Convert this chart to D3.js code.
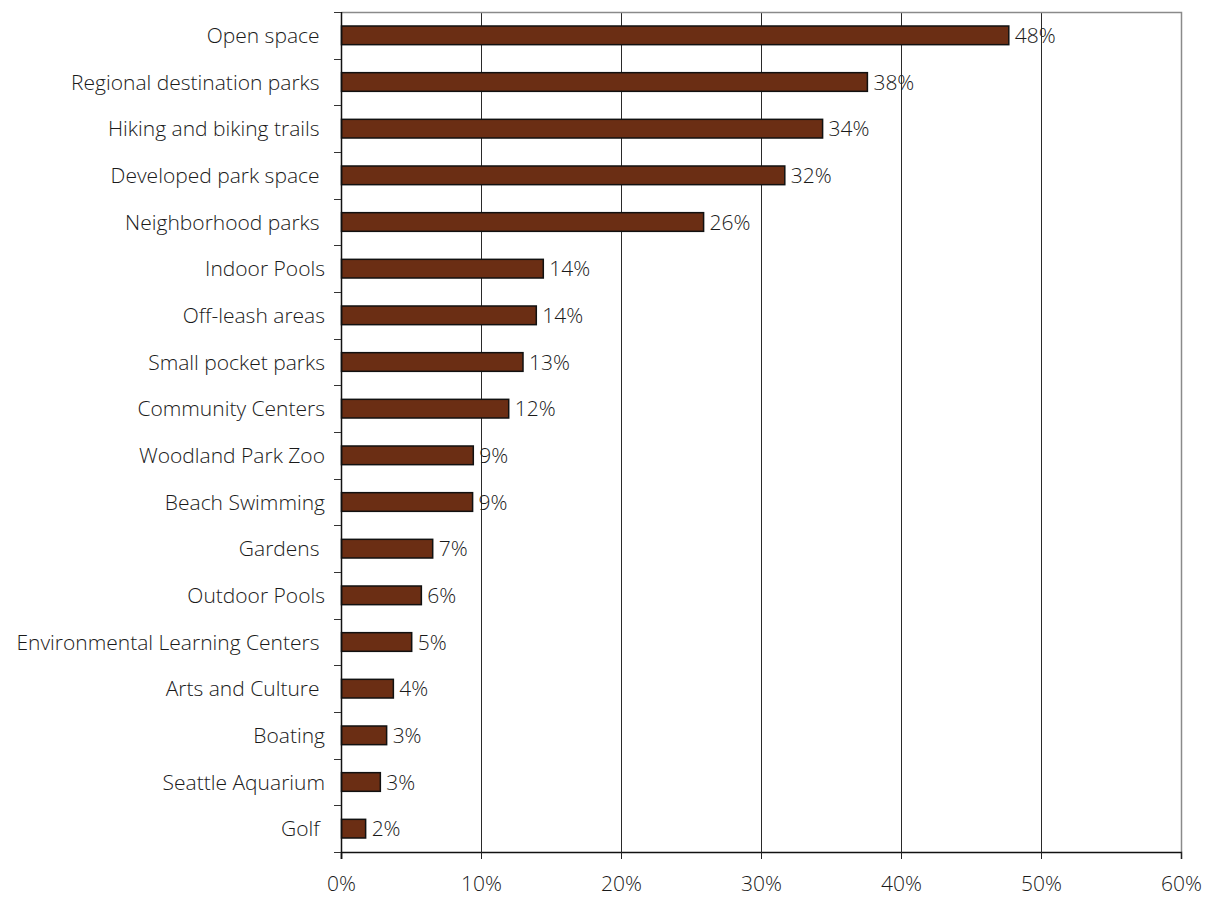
<!DOCTYPE html>
<html>
<head>
<meta charset="utf-8">
<script src="https://cdn.jsdelivr.net/npm/d3@7"></script>
<style>
  html, body { margin: 0; padding: 0; background: #fff; }
  svg { display: block; }
  text { font-family: "Open Sans", Lato, sans-serif; font-weight: 300; fill: #1a1a1a; }
</style>
</head>
<body>
<svg id="chart" width="1207" height="899"></svg>
<script>
// Share of respondents naming each facility type (percent)
const categories = [
  "Open space ", "Regional destination parks ", "Hiking and biking trails ",
  "Developed park space ", "Neighborhood parks ", "Indoor Pools",
  "Off-leash areas", "Small pocket parks", "Community Centers",
  "Woodland Park Zoo", "Beach Swimming", "Gardens ", "Outdoor Pools",
  "Environmental Learning Centers ", "Arts and Culture ", "Boating",
  "Seattle Aquarium", "Golf "
];
const values = [47.7, 37.6, 34.4, 31.7, 25.9, 14.45, 13.95, 13.0, 11.98,
                9.45, 9.4, 6.55, 5.74, 5.05, 3.74, 3.26, 2.81, 1.76];
const xTicks = [0, 10, 20, 30, 40, 50, 60];

const data = categories.map((c, i) => ({ name: c, value: values[i] }));

const margin = { top: 12, right: 26, bottom: 47, left: 341 };
const W = 1207, H = 899;
const FS = "21px";
const svg = d3.select("#chart");
const g = svg.append("g").attr("transform", `translate(${margin.left},${margin.top})`);
const iw = W - margin.left - margin.right;
const ih = H - margin.top - margin.bottom;

const x = d3.scaleLinear().domain([0, 60]).range([0, iw]);
const y = d3.scaleBand().domain(categories).range([0, ih]).paddingInner(0.6).paddingOuter(0.3);
const fmt = v => d3.format(".0f")(v) + "%";

// vertical gridlines
g.selectAll("line.grid").data(xTicks.slice(1, -1)).enter().append("line")
  .attr("class", "grid")
  .attr("x1", d => Math.round(x(d)) + 0.5).attr("x2", d => Math.round(x(d)) + 0.5)
  .attr("y1", 0).attr("y2", ih)
  .attr("stroke", "#2a2a2a").attr("stroke-width", 1);

// plot frame (top and right)
g.append("path")
  .attr("d", `M0.5,0.5H${Math.round(iw) + 0.5}V${ih}`)
  .attr("fill", "none").attr("stroke", "#8a8a8a").attr("stroke-width", 1.5);

// bars
g.selectAll("rect.bar").data(data).enter().append("rect")
  .attr("class", "bar")
  .attr("x", 0.5)
  .attr("y", d => y(d.name))
  .attr("width", d => x(d.value) - 0.5)
  .attr("height", y.bandwidth())
  .attr("fill", "#6b2e14")
  .attr("stroke", "#111").attr("stroke-width", 1.5);

// value labels
g.selectAll("text.val").data(data).enter().append("text")
  .attr("class", "val")
  .attr("x", d => x(d.value) + 6)
  .attr("y", d => y(d.name) + y.bandwidth() / 2)
  .attr("dy", "0.36em")
  .style("font-size", FS)
  .text(d => fmt(d.value));

// x axis
const xAxis = g.append("g").attr("transform", `translate(0,${ih})`)
  .call(d3.axisBottom(x).tickValues(xTicks).tickFormat(d => d + "%").tickSize(7).tickPadding(17));
xAxis.select(".domain").attr("stroke", "#111").attr("stroke-width", 1.5);
xAxis.selectAll(".tick line").attr("stroke", "#222");
xAxis.selectAll("text").style("font-size", FS).attr("fill", "#1a1a1a")
  .style("font-family", "'Open Sans', Lato, sans-serif").style("font-weight", 300);

// y axis: ticks on band boundaries
const bounds = d3.range(categories.length + 1).map(i => i * ih / categories.length);
const yAxis = g.append("g");
yAxis.append("line").attr("x1", 0.5).attr("x2", 0.5).attr("y1", 0).attr("y2", ih + 7)
  .attr("stroke", "#111").attr("stroke-width", 1.5);
yAxis.selectAll("line.yt").data(bounds).enter().append("line")
  .attr("class", "yt")
  .attr("x1", -7).attr("x2", 0)
  .attr("y1", d => Math.round(d) + 0.5).attr("y2", d => Math.round(d) + 0.5)
  .attr("stroke", "#333");
yAxis.selectAll("text.cat").data(categories).enter().append("text")
  .attr("class", "cat")
  .attr("x", -16)
  .attr("y", d => y(d) + y.bandwidth() / 2)
  .attr("dy", "0.36em")
  .attr("text-anchor", "end")
  .style("white-space", "pre")
  .style("font-size", FS)
  .text(d => d);
</script>
</body>
</html>
